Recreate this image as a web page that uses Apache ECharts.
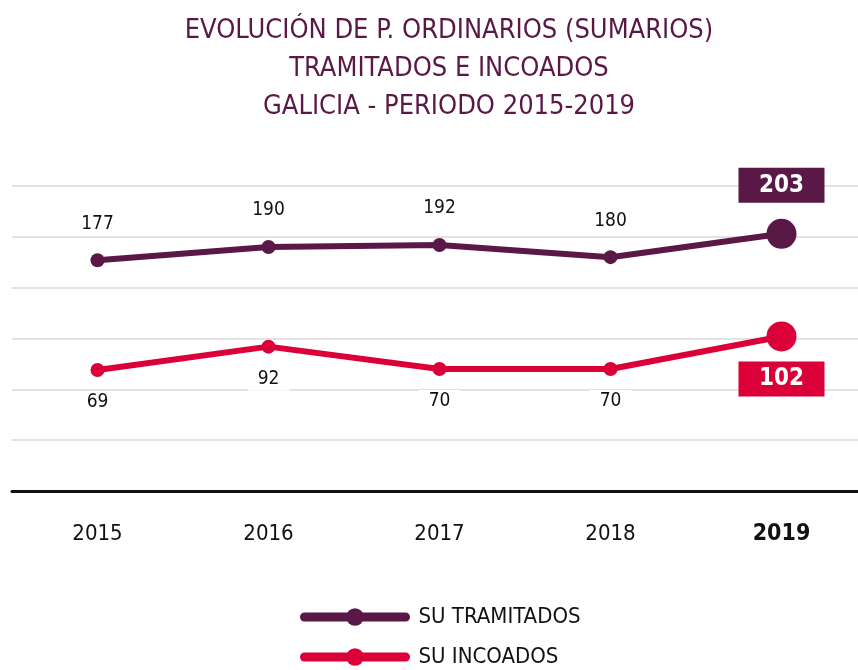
<!DOCTYPE html>
<html>
<head>
<meta charset="utf-8">
<script src="https://cdn.jsdelivr.net/npm/echarts@6/dist/echarts.min.js"></script>
<style>
html,body{margin:0;padding:0;background:#fff;}
#c{width:858px;height:670px;}
</style>
</head>
<body>
<div id="c"></div>
<script>
const categories = ['2015', '2016', '2017', '2018', '2019'];
const tramitados = [177, 190, 192, 180, 203];
const incoados = [69, 92, 70, 70, 102];
const seriesNames = ['SU TRAMITADOS', 'SU INCOADOS'];
const titleText = 'EVOLUCIÓN DE P. ORDINARIOS (SUMARIOS)\nTRAMITADOS E INCOADOS\nGALICIA - PERIODO 2015-2019';

const PURPLE = '#5a1847';
const RED = '#dc0039';
const FONT = '"Liberation Sans Narrow", "DejaVu Sans Condensed", "Roboto", sans-serif';

function buildData(values, color, above) {
  return values.map((v, i) => {
    const last = i === values.length - 1;
    const d = { value: v };
    if (last) {
      d.symbolSize = 30;
      d.label = {
        show: true,
        position: above ? 'top' : 'bottom',
        distance: above ? 16 : 10,
        backgroundColor: color,
        color: '#fff',
        fontWeight: 'bold',
        fontSize: 24,
        width: 86,
        height: 35,
        lineHeight: 35,
        align: 'center',
        padding: 0
      };
    }
    return d;
  });
}

function legendFor(name, top) {
  return {
    orient: 'horizontal',
    left: 300,
    top: top,
    padding: 0,
    itemWidth: 101,
    itemHeight: 22,
    data: [name],
    textStyle: { fontSize: 22, color: '#111', fontFamily: FONT, padding: [0, 0, 0, 8] },
    lineStyle: { width: 9, cap: 'round' },
    selectedMode: false
  };
}

const chart = echarts.init(document.getElementById('c'));
chart.setOption({
  backgroundColor: '#fff',
  animation: false,
  textStyle: { fontFamily: FONT },
  title: {
    text: titleText,
    left: 444,
    textAlign: 'center',
    top: 7,
    textStyle: { color: PURPLE, fontSize: 27, fontWeight: 'normal', lineHeight: 38, fontFamily: FONT }
  },
  grid: { left: 12, right: -9, top: 186, bottom: 179, outerBoundsMode: 'none', containLabel: false },
  legend: [legendFor(seriesNames[0], 606), legendFor(seriesNames[1], 646)],
  xAxis: {
    type: 'category',
    data: categories,
    boundaryGap: true,
    axisLine: { show: true, onZero: false, lineStyle: { color: '#111', width: 3 } },
    axisTick: { show: false },
    axisLabel: {
      margin: 32,
      fontSize: 22,
      color: '#111',
      fontFamily: FONT,
      formatter: (v, i) => i === categories.length - 1 ? '{b|' + v + '}' : v,
      rich: { b: { fontWeight: 'bold', fontSize: 23, color: '#111', fontFamily: FONT } }
    }
  },
  yAxis: {
    type: 'value',
    min: -50,
    max: 250,
    interval: 50,
    axisLine: { show: false },
    axisTick: { show: false },
    axisLabel: { show: false },
    splitLine: { show: true, lineStyle: { color: '#e3e3e3', width: 2 } }
  },
  series: [
    {
      name: seriesNames[0],
      type: 'line',
      data: buildData(tramitados, PURPLE, true),
      color: PURPLE,
      symbol: 'circle',
      symbolSize: 14,
      lineStyle: { width: 6, color: PURPLE },
      itemStyle: { color: PURPLE },
      label: {
        show: true,
        position: 'top',
        distance: 18,
        fontSize: 19,
        color: '#111',
        fontFamily: FONT,
        backgroundColor: '#fff',
        padding: [2, 10]
      },
      z: 3
    },
    {
      name: seriesNames[1],
      type: 'line',
      data: buildData(incoados, RED, false),
      color: RED,
      symbol: 'circle',
      symbolSize: 14,
      lineStyle: { width: 6, color: RED },
      itemStyle: { color: RED },
      label: {
        show: true,
        position: 'bottom',
        distance: 14,
        fontSize: 19,
        color: '#111',
        fontFamily: FONT,
        backgroundColor: '#fff',
        padding: [2, 10]
      },
      z: 3
    }
  ]
});
</script>
</body>
</html>
